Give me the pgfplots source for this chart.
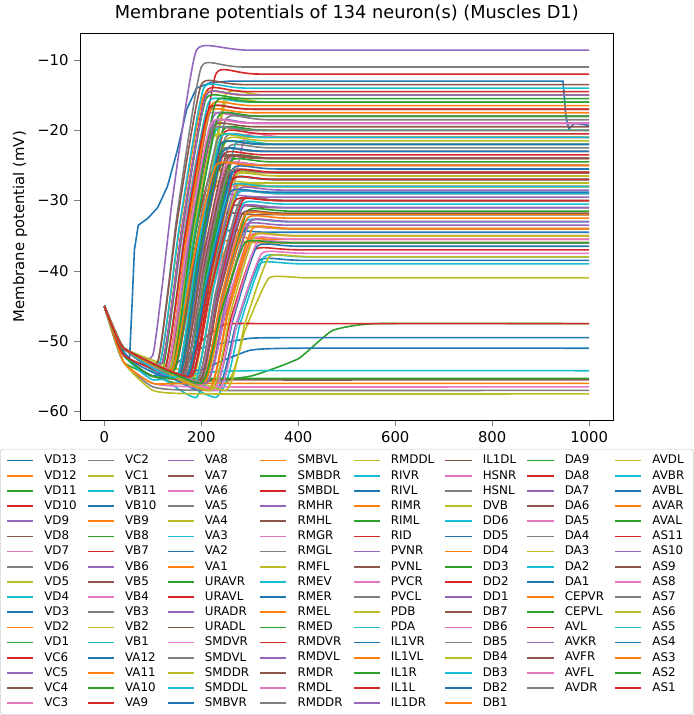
\documentclass[border=0pt]{standalone}
\usepackage{pgfplots}
\pgfplotsset{compat=1.18}
\usepackage{fontspec}
\setmainfont{DejaVu Sans}
\definecolor{c0}{HTML}{1F77B4}\definecolor{c1}{HTML}{FF7F0E}\definecolor{c2}{HTML}{2CA02C}
\definecolor{c3}{HTML}{D62728}\definecolor{c4}{HTML}{9467BD}\definecolor{c5}{HTML}{8C564B}
\definecolor{c6}{HTML}{E377C2}\definecolor{c7}{HTML}{7F7F7F}\definecolor{c8}{HTML}{BCBD22}
\definecolor{c9}{HTML}{17BECF}
\newcommand\cv[7]{\addplot coordinates {(0,-45)(40,-51)(#1,#2)(#3,#4)(#5,#6)(#7,#6)(1000,#6)};}
\begin{document}
\begin{tikzpicture}
\begin{axis}[
  scale only axis, width=360pt, height=261pt,
  xmin=-50, xmax=1050, ymin=-61.2, ymax=-6.2,
  xtick={0,200,400,600,800,1000},
  xticklabels={0,200,400,600,800,1000},
  ytick={-60,-50,-40,-30,-20,-10},
  yticklabels={−60,−50,−40,−30,−20,−10},
  tick align=outside, xtick pos=left, ytick pos=left,
  tick label style={font=\fontsize{10}{12}\selectfont},
  /pgf/number format/assume math mode=true,
  title={Membrane potentials of 134 neuron(s) (Muscles D1)},
  title style={font=\fontsize{12}{14}\selectfont, yshift=-2pt},
  ylabel={Membrane potential (mV)},
  ylabel style={font=\fontsize{10}{12}\selectfont},
  cycle list={{c0},{c1},{c2},{c3},{c4},{c5},{c6},{c7},{c8},{c9}},
  every axis plot/.append style={line width=1.08pt, smooth, tension=0.25, no markers},
  transpose legend, legend columns=17,
  legend style={at={(0.5,-0.075)}, anchor=north, font=\fontsize{8}{9.5}\selectfont,
    draw=gray!40, rounded corners=2pt, fill=white,
    column sep=5pt, row sep=-1.2pt, inner xsep=4pt, inner ysep=2pt},
  legend cell align=left,
  legend image code/.code={\draw[#1, line width=1.08pt, sharp corners] (0cm,0cm) -- (0.62cm,0cm);},
]
% 1
\addplot+[sharp plot] coordinates {(0,-45)(20,-48.5)(40,-51.5)(52,-52.5)(57,-45)(62,-37)(70,-33.5)(90,-32.5)(110,-31)(130,-28)(150,-23)(170,-17)(190,-14)(220,-13.2)(260,-13)(946,-13)(952,-18)(958,-19.8)(970,-19)(1000,-19.3)};
\cv{130}{-54}{170}{-37}{220}{-20}{310}
\cv{150}{-55}{190}{-40}{240}{-25}{330}
\cv{140}{-54}{180}{-33}{230}{-12}{320}
\cv{100}{-52}{140}{-30}{190}{-8.6}{300}
\cv{170}{-55}{210}{-43}{260}{-31}{350}
\cv{120}{-53}{160}{-35.5}{210}{-18}{300}
\cv{110}{-53}{150}{-32}{200}{-11}{290}
\cv{160}{-55}{200}{-35}{250}{-15}{340}
\cv{180}{-56}{220}{-39}{270}{-22}{360}
\cv{200}{-56}{240}{-45}{290}{-34}{380}
\cv{150}{-55}{190}{-45.5}{240}{-36}{330}
% 13
\addplot coordinates {(0,-45)(40,-53)(150,-56)(300,-55)(400,-52.5)(470,-48.5)(560,-47.5)(1000,-47.5)};
\cv{130}{-54}{170}{-40}{220}{-26}{310}
\cv{140}{-55}{180}{-37}{230}{-19}{320}
\cv{190}{-56}{230}{-43}{280}{-30}{370}
\cv{170}{-55}{210}{-39.5}{260}{-24}{350}
\cv{210}{-56}{250}{-44.5}{300}{-33}{390}
\cv{160}{-55}{200}{-35.5}{250}{-16}{340}
\cv{230}{-58}{270}{-48.5}{320}{-39}{410}
% 21
\addplot coordinates {(0,-45)(40,-52)(100,-55)(200,-51)(300,-49.6)(400,-49.5)(1000,-49.5)};
\cv{170}{-55}{210}{-45}{260}{-35.5}{350}
\cv{120}{-54}{160}{-34.5}{210}{-15}{300}
\cv{150}{-55}{190}{-39.5}{240}{-24}{330}
\cv{180}{-55}{220}{-41.5}{270}{-28}{360}
\cv{140}{-54}{180}{-43}{230}{-32}{320}
\cv{200}{-56}{240}{-38.5}{290}{-21}{380}
\cv{130}{-54}{170}{-35.5}{220}{-17}{310}
\cv{250}{-56}{290}{-48.5}{340}{-41}{430}
\cv{190}{-58}{230}{-44}{280}{-30}{370}
\cv{160}{-55}{200}{-44.75}{250}{-34.5}{340}
\cv{140}{-54}{180}{-41}{230}{-28}{320}
\cv{120}{-53}{160}{-34}{210}{-15.5}{300}
\cv{170}{-55}{210}{-40.5}{260}{-26}{350}
\cv{210}{-56}{250}{-46}{300}{-36}{390}
\cv{150}{-55}{190}{-39}{240}{-23}{330}
\cv{130}{-54}{170}{-36.5}{220}{-19}{310}
\cv{180}{-55}{220}{-42}{270}{-29}{360}
\cv{160}{-55}{200}{-38}{250}{-21.5}{340}
\cv{200}{-56}{240}{-44.5}{290}{-33}{380}
\cv{230}{-57}{270}{-48}{320}{-38.5}{410}
\cv{140}{-54}{180}{-39.5}{230}{-25}{320}
\cv{170}{-55}{210}{-41}{260}{-27}{350}
\cv{120}{-53}{160}{-34}{210}{-14.5}{300}
\cv{190}{-56}{230}{-43.5}{280}{-31}{370}
\cv{150}{-55}{190}{-38.5}{240}{-22}{330}
\cv{210}{-56}{250}{-45.5}{300}{-35}{390}
\cv{160}{-55}{200}{-37}{250}{-18.5}{340}
\cv{180}{-56}{220}{-41}{270}{-26.5}{360}
\cv{140}{-54}{180}{-37}{230}{-20}{320}
\cv{200}{-57}{240}{-44.5}{290}{-32}{380}
\cv{130}{-54}{170}{-35}{220}{-16.5}{310}
\cv{170}{-55}{210}{-40}{260}{-24.5}{350}
\cv{220}{-57}{260}{-47}{310}{-37}{400}
\cv{150}{-55}{190}{-42}{240}{-29.5}{330}
\cv{110}{-53}{150}{-33}{200}{-13.5}{290}
\cv{190}{-56}{230}{-45}{280}{-34}{370}
\cv{160}{-55}{200}{-38}{250}{-21}{340}
\cv{140}{-54}{180}{-41}{230}{-27.5}{320}
\cv{240}{-57}{280}{-47.5}{330}{-38}{420}
\cv{175}{-55}{215}{-40}{265}{-25.5}{355}
\cv{125}{-54}{165}{-36}{215}{-17.5}{305}
\cv{205}{-56}{245}{-44}{295}{-31.5}{385}
\cv{155}{-55}{195}{-39}{245}{-23.5}{335}
\cv{185}{-56}{225}{-42}{275}{-28.5}{365}
\cv{135}{-54}{175}{-37}{225}{-19.5}{315}
\cv{215}{-57}{255}{-46}{305}{-35.5}{395}
\cv{165}{-55}{205}{-39}{255}{-22.5}{345}
\cv{145}{-54}{185}{-40}{235}{-26}{325}
\cv{195}{-56}{235}{-43}{285}{-30.5}{375}
\cv{225}{-57}{265}{-47}{315}{-36.5}{405}
\cv{115}{-53}{155}{-34}{205}{-15}{295}
\cv{175}{-55}{215}{-39.5}{265}{-24}{355}
\cv{155}{-55}{195}{-38}{245}{-20.5}{335}
\cv{200}{-56}{240}{-45}{290}{-33.5}{380}
% 76-84
\addplot coordinates {(0,-45)(40,-52)(100,-55)(200,-55.5)(1000,-55.5)};
\addplot coordinates {(0,-45)(40,-53)(100,-56)(200,-56.5)(1000,-56.5)};
\addplot coordinates {(0,-45)(40,-53)(100,-56.5)(200,-57)(1000,-57)};
\addplot coordinates {(0,-45)(40,-53)(100,-57)(200,-57.5)(1000,-57.5)};
\addplot coordinates {(0,-45)(40,-52)(100,-55.5)(200,-54.5)(300,-54.2)(1000,-54.2)};
\addplot coordinates {(0,-45)(40,-52)(120,-55)(200,-54)(300,-51.3)(400,-51)(1000,-51)};
\addplot coordinates {(0,-45)(40,-53)(100,-56)(200,-56)(1000,-56)};
\addplot coordinates {(0,-45)(40,-52)(100,-55)(200,-55.3)(1000,-55.3)};
\addplot coordinates {(0,-45)(40,-52)(150,-55)(200,-50)(250,-47.6)(350,-47.5)(1000,-47.5)};
% 85
\cv{135}{-54}{175}{-36}{225}{-18}{315}
\cv{165}{-55}{205}{-40}{255}{-25}{345}
\cv{185}{-56}{225}{-42.5}{275}{-29}{365}
\cv{145}{-54}{185}{-37.5}{235}{-21}{325}
\cv{205}{-56}{245}{-45}{295}{-34}{385}
\cv{125}{-54}{165}{-35}{215}{-16}{305}
\cv{175}{-55}{215}{-41}{265}{-27}{355}
\cv{215}{-57}{255}{-46}{305}{-35}{395}
\cv{155}{-55}{195}{-38.5}{245}{-22}{335}
\cv{195}{-56}{235}{-43}{285}{-30}{375}
\cv{135}{-54}{175}{-36.5}{225}{-19}{315}
\cv{165}{-55}{205}{-39.5}{255}{-24}{345}
\cv{235}{-57}{275}{-47}{325}{-37.5}{415}
\cv{145}{-54}{185}{-38.5}{235}{-23}{325}
\cv{185}{-56}{225}{-42}{275}{-28}{365}
\cv{115}{-53}{155}{-33.5}{205}{-14}{295}
\cv{175}{-55}{215}{-40.5}{265}{-26}{355}
\cv{205}{-56}{245}{-44}{295}{-32.5}{385}
\cv{155}{-55}{195}{-37.5}{245}{-20}{335}
\cv{125}{-54}{165}{-35.5}{215}{-17}{305}
\cv{195}{-56}{235}{-43.5}{285}{-31}{375}
\cv{145}{-54}{185}{-39}{235}{-24}{325}
\cv{225}{-57}{265}{-46.5}{315}{-36}{405}
\cv{165}{-55}{205}{-40.5}{255}{-26}{345}
\cv{135}{-54}{175}{-37.5}{225}{-21}{315}
\cv{185}{-56}{225}{-42.5}{275}{-29}{365}
\cv{155}{-55}{195}{-39}{245}{-23}{335}
\cv{215}{-57}{255}{-45.5}{305}{-34}{395}
\cv{145}{-54}{185}{-36}{235}{-18}{325}
\cv{175}{-55}{215}{-41}{265}{-27}{355}
\cv{120}{-53}{160}{-34}{210}{-15}{300}
\cv{195}{-56}{235}{-44}{285}{-31.8}{375}
\cv{160}{-55}{200}{-40}{250}{-25}{340}
\cv{130}{-54}{170}{-37}{220}{-20}{310}
\addlegendimage{empty legend}
\cv{250}{-57}{290}{-47.5}{340}{-38}{430}
\cv{170}{-55}{210}{-41.5}{260}{-28}{350}
\cv{150}{-55}{190}{-38.5}{240}{-22}{330}
\cv{200}{-56}{240}{-44}{290}{-32}{380}
\cv{140}{-54}{180}{-35}{230}{-16}{320}
\cv{180}{-55}{220}{-40.5}{270}{-26}{360}
\cv{210}{-56}{250}{-44.5}{300}{-33}{390}
\cv{160}{-55}{200}{-39.5}{250}{-24}{340}
\cv{130}{-54}{170}{-36.5}{220}{-19}{310}
\cv{190}{-56}{230}{-43}{280}{-30}{370}
\cv{220}{-57}{260}{-46}{310}{-35}{400}
\cv{150}{-55}{190}{-38}{240}{-21}{330}
\cv{170}{-55}{210}{-42}{260}{-28.8}{350}
\cv{140}{-54}{180}{-39.5}{230}{-25}{320}
\cv{200}{-56}{240}{-46}{290}{-36}{380}
\cv{180}{-55}{220}{-42.5}{270}{-30}{360}
\addlegendimage{empty legend}
\legend{VD13,VD12,VD11,VD10,VD9,VD8,VD7,VD6,VD5,VD4,VD3,VD2,VD1,VC6,VC5,VC4,VC3,
VC2,VC1,VB11,VB10,VB9,VB8,VB7,VB6,VB5,VB4,VB3,VB2,VB1,VA12,VA11,VA10,VA9,
VA8,VA7,VA6,VA5,VA4,VA3,VA2,VA1,URAVR,URAVL,URADR,URADL,SMDVR,SMDVL,SMDDR,SMDDL,SMBVR,
SMBVL,SMBDR,SMBDL,RMHR,RMHL,RMGR,RMGL,RMFL,RMEV,RMER,RMEL,RMED,RMDVR,RMDVL,RMDR,RMDL,RMDDR,
RMDDL,RIVR,RIVL,RIMR,RIML,RID,PVNR,PVNL,PVCR,PVCL,PDB,PDA,IL1VR,IL1VL,IL1R,IL1L,IL1DR,
IL1DL,HSNR,HSNL,DVB,DD6,DD5,DD4,DD3,DD2,DD1,DB7,DB6,DB5,DB4,DB3,DB2,DB1,
DA9,DA8,DA7,DA6,DA5,DA4,DA3,DA2,DA1,CEPVR,CEPVL,AVL,AVKR,AVFR,AVFL,AVDR,\mbox{},
AVDL,AVBR,AVBL,AVAR,AVAL,AS11,AS10,AS9,AS8,AS7,AS6,AS5,AS4,AS3,AS2,AS1,\mbox{}}
\end{axis}
\end{tikzpicture}
\end{document}
